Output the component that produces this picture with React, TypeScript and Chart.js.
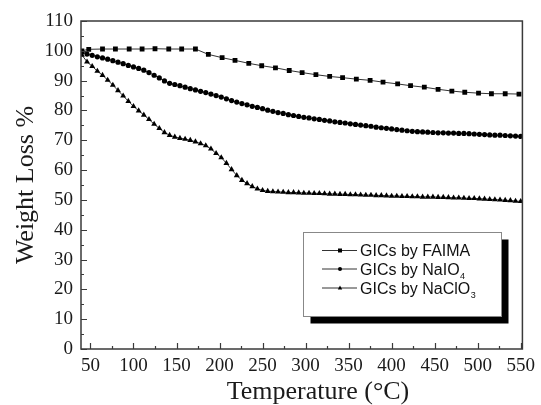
import { useEffect, useRef } from 'react';
import { Chart, registerables } from 'chart.js';

Chart.register(...registerables);

// Temperatures (°C) for the NaIO4 and NaClO3 runs
const temperatures = [
  40, 46, 52, 58, 64, 70, 76, 82, 88, 94, 100, 106, 112, 118, 124, 130, 136, 142, 148, 154,
  160, 166, 172, 178, 184, 190, 196, 202, 208, 214, 220, 226, 232, 238, 244, 250, 256, 262, 268, 274,
  280, 286, 292, 298, 304, 310, 316, 322, 328, 334, 340, 346, 352, 358, 364, 370, 376, 382, 388, 394,
  400, 406, 412, 418, 424, 430, 436, 442, 448, 454, 460, 466, 472, 478, 484, 490, 496, 502, 508, 514,
  520, 526, 532, 538, 544, 550,
];

const naio4Weight = [
  99.5, 98.9, 98.5, 98.0, 97.6, 97.2, 96.7, 96.2, 95.7, 95.1, 94.6, 94.1, 93.5, 92.7, 91.8, 90.9, 89.9, 89.1, 88.7, 88.3,
  87.8, 87.3, 86.9, 86.4, 86.0, 85.5, 85.0, 84.5, 83.9, 83.3, 82.8, 82.3, 81.9, 81.4, 81.0, 80.6, 80.1, 79.7, 79.3, 79.0,
  78.6, 78.3, 78.0, 77.7, 77.5, 77.2, 77.0, 76.7, 76.5, 76.2, 76.0, 75.8, 75.5, 75.3, 75.1, 74.9, 74.7, 74.4, 74.2, 74.0,
  73.8, 73.6, 73.4, 73.2, 73.0, 72.9, 72.8, 72.7, 72.6, 72.5, 72.5, 72.4, 72.4, 72.3, 72.3, 72.2, 72.1, 72.0, 71.9, 71.8,
  71.7, 71.7, 71.6, 71.5, 71.4, 71.3,
];

const naclo3Weight = [
  98.6, 96.3, 94.8, 93.2, 91.8, 90.2, 88.5, 86.7, 84.9, 83.1, 81.4, 79.9, 78.5, 77.0, 75.4, 74.0, 72.6, 71.7, 71.1, 70.7,
  70.4, 70.0, 69.5, 68.9, 68.2, 67.1, 65.6, 64.2, 62.3, 60.2, 58.2, 56.6, 55.5, 54.5, 53.7, 53.2, 52.9, 52.8, 52.7, 52.6,
  52.5, 52.5, 52.4, 52.3, 52.3, 52.2, 52.2, 52.1, 52.0, 52.0, 51.9, 51.9, 51.8, 51.8, 51.7, 51.6, 51.6, 51.5, 51.5, 51.4,
  51.3, 51.3, 51.2, 51.2, 51.1, 51.1, 51.0, 51.0, 51.0, 50.9, 50.9, 50.8, 50.7, 50.7, 50.6, 50.5, 50.5, 50.4, 50.3, 50.2,
  50.1, 50.0, 49.9, 49.8, 49.6, 49.5,
];

// FAIMA run has sparser sampling
const faimaTemperatures = [
  40, 48, 64, 79, 95, 110, 125, 141, 156, 172, 187, 203, 218, 234, 249, 265, 281,
  296, 312, 328, 343, 359, 375, 390, 407, 422, 438, 454, 470, 485, 501, 516, 532, 548,
];
const faimaWeight = [
  100.0, 100.5, 100.6, 100.6, 100.6, 100.6, 100.7, 100.6, 100.6, 100.6, 98.8, 97.7, 96.8, 95.8, 95.0, 94.3, 93.4,
  92.7, 92.0, 91.4, 91.0, 90.5, 90.1, 89.5, 88.9, 88.3, 87.8, 87.1, 86.5, 86.1, 85.8, 85.6, 85.6, 85.5,
];

const xTickValues = [50, 100, 150, 200, 250, 300, 350, 400, 450, 500, 550];
const yTickValues = [0, 10, 20, 30, 40, 50, 60, 70, 80, 90, 100, 110];
const seriesNames = ['GICs by FAIMA', 'GICs by NaIO', 'GICs by NaClO'];
const seriesSubscripts = ['', '4', '3'];
const seriesMarkers = ['rect', 'circle', 'triangle'];
const xTitle = 'Temperature (°C)';
const yTitle = 'Weight Loss %';

const SERIF = '"Liberation Serif", "Times New Roman", serif';
const SANS = '"Liberation Sans", Arial, sans-serif';

function drawMarker(ctx: CanvasRenderingContext2D, style: string, x: number, y: number, s: number) {
  ctx.beginPath();
  if (style === 'rect') {
    ctx.rect(x - s, y - s, 2 * s, 2 * s);
  } else if (style === 'circle') {
    ctx.arc(x, y, s, 0, Math.PI * 2);
  } else {
    ctx.moveTo(x, y - s * 1.2);
    ctx.lineTo(x + s * 1.1, y + s * 0.8);
    ctx.lineTo(x - s * 1.1, y + s * 0.8);
    ctx.closePath();
  }
  ctx.fill();
}

export default function App() {
  const ref = useRef<HTMLCanvasElement>(null);

  useEffect(() => {
    if (!ref.current) return;

    const decor = {
      id: 'decor',
      afterDraw(chart: any) {
        const { ctx, chartArea: a, scales } = chart;
        const xs = scales.x;
        const ys = scales.y;
        ctx.save();
        // frame
        ctx.strokeStyle = '#3a3a3a';
        ctx.lineWidth = 1.5;
        ctx.strokeRect(a.left, a.top, a.right - a.left, a.bottom - a.top);

        // inward tick marks
        ctx.lineWidth = 1.2;
        ctx.beginPath();
        xTickValues.forEach((v, i) => {
          const px = Math.round(xs.getPixelForValue(v)) + 0.5;
          ctx.moveTo(px, a.bottom);
          ctx.lineTo(px, a.bottom - 6);
          if (i < xTickValues.length - 1) {
            const mv = (v + xTickValues[i + 1]) / 2;
            const mx = Math.round(xs.getPixelForValue(mv)) + 0.5;
            ctx.moveTo(mx, a.bottom);
            ctx.lineTo(mx, a.bottom - 3);
          }
        });
        yTickValues.forEach((v, i) => {
          const py = Math.round(ys.getPixelForValue(v)) + 0.5;
          ctx.moveTo(a.left, py);
          ctx.lineTo(a.left + 6, py);
          if (i < yTickValues.length - 1) {
            const mv = (v + yTickValues[i + 1]) / 2;
            const my = Math.round(ys.getPixelForValue(mv)) + 0.5;
            ctx.moveTo(a.left, my);
            ctx.lineTo(a.left + 3, my);
          }
        });
        ctx.stroke();

        // axis titles
        ctx.fillStyle = '#1a1a1a';
        ctx.font = `26px ${SERIF}`;
        ctx.textAlign = 'center';
        ctx.textBaseline = 'alphabetic';
        ctx.fillText(xTitle, 318, 399);
        ctx.save();
        ctx.translate(33, 185);
        ctx.rotate(-Math.PI / 2);
        ctx.fillText(yTitle, 0, 0);
        ctx.restore();

        // legend box with shadow
        const lx = 303.5, ly = 232.5, lw = 198, lh = 84;
        ctx.fillStyle = '#000';
        ctx.fillRect(lx + 7, ly + 7, lw, lh);
        ctx.fillStyle = '#fff';
        ctx.fillRect(lx, ly, lw, lh);
        ctx.strokeStyle = '#888';
        ctx.lineWidth = 1;
        ctx.strokeRect(lx, ly, lw, lh);

        const rows = [250, 268.5, 287.5];
        rows.forEach((ry, i) => {
          ctx.strokeStyle = '#333';
          ctx.lineWidth = 1;
          ctx.beginPath();
          ctx.moveTo(322, ry + 0.5);
          ctx.lineTo(357, ry + 0.5);
          ctx.stroke();
          ctx.fillStyle = '#000';
          drawMarker(ctx, seriesMarkers[i], 340, ry + 0.5, 2);
          ctx.fillStyle = '#111';
          ctx.textAlign = 'left';
          ctx.font = `16px ${SANS}`;
          ctx.fillText(seriesNames[i], 360, ry + 6);
          if (seriesSubscripts[i]) {
            const w = ctx.measureText(seriesNames[i]).width;
            ctx.font = `9px ${SANS}`;
            ctx.fillText(seriesSubscripts[i], 360 + w + 0.5, ry + 10);
          }
        });
        ctx.restore();
      },
    };

    const mk = (xsArr: number[], ysArr: number[]) => xsArr.map((x, i) => ({ x, y: ysArr[i] }));

    const chart = new Chart(ref.current, {
      type: 'line',
      data: {
        datasets: [
          {
            label: seriesNames[0],
            data: mk(faimaTemperatures, faimaWeight),
            borderColor: '#333',
            borderWidth: 1,
            pointStyle: 'rect',
            pointRadius: 3.4,
            pointBackgroundColor: '#000',
            pointBorderWidth: 0,
            tension: 0,
          },
          {
            label: seriesNames[1] + seriesSubscripts[1],
            data: mk(temperatures, naio4Weight),
            borderColor: '#333',
            borderWidth: 1,
            pointStyle: 'circle',
            pointRadius: 2.6,
            pointBackgroundColor: '#000',
            pointBorderWidth: 0,
            tension: 0,
          },
          {
            label: seriesNames[2] + seriesSubscripts[2],
            data: mk(temperatures, naclo3Weight),
            borderColor: '#333',
            borderWidth: 1,
            pointStyle: 'triangle',
            pointRadius: 3.4,
            pointBackgroundColor: '#000',
            pointBorderWidth: 0,
            tension: 0,
          },
        ] as any,
      },
      options: {
        animation: false,
        responsive: false,
        devicePixelRatio: 1,
        layout: { padding: { top: 21, right: 15, left: 0, bottom: 0 } },
        plugins: { legend: { display: false }, tooltip: { enabled: false } },
        scales: {
          x: {
            type: 'linear',
            min: 39,
            max: 552,
            grid: { display: false, drawTicks: false },
            border: { display: false },
            afterBuildTicks: (s: any) => {
              s.ticks = xTickValues.map((v) => ({ value: v }));
            },
            afterFit: (s: any) => {
              s.height = 56;
            },
            ticks: {
              font: { family: SERIF, size: 19 },
              color: '#1a1a1a',
              padding: 6,
              maxRotation: 0,
              autoSkip: false,
            },
          },
          y: {
            type: 'linear',
            min: 0,
            max: 110,
            grid: { display: false, drawTicks: false },
            border: { display: false },
            afterBuildTicks: (s: any) => {
              s.ticks = yTickValues.map((v) => ({ value: v }));
            },
            afterFit: (s: any) => {
              s.width = 81;
            },
            ticks: {
              font: { family: SERIF, size: 19 },
              color: '#1a1a1a',
              padding: 8,
              autoSkip: false,
            },
          },
        },
      } as any,
      plugins: [decor],
    });

    return () => chart.destroy();
  }, []);

  return (
    <div style={{ position: 'fixed', left: 0, top: 0, width: 541, height: 405, background: '#fff' }}>
      <canvas ref={ref} width={541} height={405} style={{ display: 'block' }} />
    </div>
  );
}
